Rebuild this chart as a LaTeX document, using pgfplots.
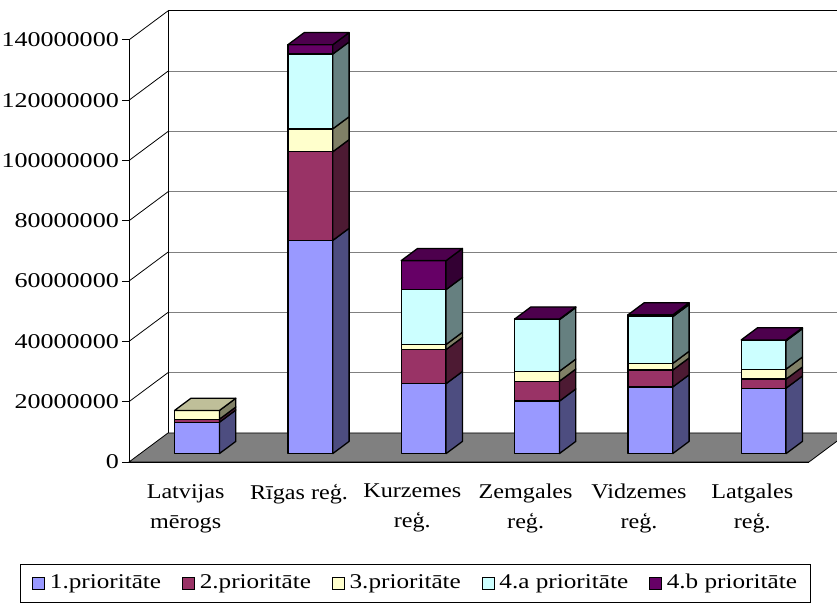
\documentclass[border=0pt]{standalone}
\usepackage{pgfplots}
\usepackage{pgfplotstable}
\pgfplotsset{compat=1.18}
\usepackage{fontspec}
\setmainfont{Liberation Serif}[FakeStretch=1.15]
\newfontfamily\yfont{Liberation Serif}[FakeStretch=1.24]
\newfontfamily\legfont{Liberation Serif}[FakeStretch=1.20]
\newcommand\chartfont{\fontsize{21bp}{30bp}\selectfont}
\newcommand\ylabfont{\yfont\fontsize{21bp}{30bp}\selectfont}
\newcommand\legendfont{\legfont\fontsize{21bp}{30bp}\selectfont}
\definecolor{c1}{HTML}{9999FF}\definecolor{c1s}{HTML}{4D4D80}\definecolor{c1t}{HTML}{7373BF}
\definecolor{c2}{HTML}{993366}\definecolor{c2s}{HTML}{4D1A33}\definecolor{c2t}{HTML}{73264D}
\definecolor{c3}{HTML}{FFFFCC}\definecolor{c3s}{HTML}{808066}\definecolor{c3t}{HTML}{BFBF99}
\definecolor{c4}{HTML}{CCFFFF}\definecolor{c4s}{HTML}{668080}\definecolor{c4t}{HTML}{99BFBF}
\definecolor{c5}{HTML}{660066}\definecolor{c5s}{HTML}{330033}\definecolor{c5t}{HTML}{4D004D}
\definecolor{floorgray}{HTML}{808080}
\definecolor{gridgray}{HTML}{808080}
% values in millions
\pgfplotstableread{
cat p1 p2 p3 p4a p4b
0 10.4 1.0 2.9 0 0
1 70.7 29.4 7.6 24.8 3.1
2 23.2 11.3 1.7 18.2 9.6
3 17.4 6.6 3.3 17.1 0.2
4 22.1 5.6 2.2 15.5 0.6
5 21.7 3.0 3.3 9.4 0.3
}\datatable
\def\hw{0.198}   % half bar width
\def\fdx{0.0998} % front offset of bars (depth)
\def\fdy{2.79}
\def\bdx{0.1445} % bar depth
\def\bdy{4.04}
\def\blw{1.3bp}
\newcommand\drawbar[1]{%
  \pgfmathsetmacro\xl{#1+0.5-\hw+\fdx}%
  \pgfmathsetmacro\xr{\xl+2*\hw}%
  \pgfmathsetmacro\xrb{\xr+\bdx}%
  \pgfmathsetmacro\xlb{\xl+\bdx}%
  \xdef\cum{\fdy}%
  \xdef\topcol{white}%
  \foreach \s/\fc/\sc/\tc in {p1/c1/c1s/c1t,p2/c2/c2s/c2t,p3/c3/c3s/c3t,p4a/c4/c4s/c4t,p4b/c5/c5s/c5t}{%
    \pgfplotstablegetelem{#1}{\s}\of\datatable
    \let\v\pgfplotsretval
    \ifdim\v pt>0pt
      \pgfmathsetmacro\ya{\cum}%
      \pgfmathsetmacro\yb{\cum+\v}%
      \pgfmathsetmacro\yab{\ya+\bdy}%
      \pgfmathsetmacro\ybb{\yb+\bdy}%
      \edef\temp{\noexpand\addplot[fill=\fc,draw=black,line width=\blw,line join=round,forget plot] coordinates {(\xl,\ya) (\xr,\ya) (\xr,\yb) (\xl,\yb)} -- cycle;
        \noexpand\addplot[fill=\sc,draw=black,line width=\blw,line join=round,forget plot] coordinates {(\xr,\ya) (\xrb,\yab) (\xrb,\ybb) (\xr,\yb)} -- cycle;}%
      \temp
      \xdef\cum{\yb}%
      \xdef\topcol{\tc}%
    \fi
  }%
  \pgfmathsetmacro\ytb{\cum+\bdy}%
  \edef\temp{\noexpand\addplot[fill=\topcol,draw=black,line width=\blw,line join=round,forget plot] coordinates {(\xl,\cum) (\xr,\cum) (\xrb,\ytb) (\xlb,\ytb)} -- cycle;}%
  \temp
}
\begin{document}
\chartfont
\begin{tikzpicture}
\useasboundingbox (-129bp,-141bp) rectangle (708bp,462bp);
\clip (-129bp,-141bp) rectangle (708bp,462bp);
\begin{axis}[
  at={(0,0)}, anchor=origin,
  x=113.33bp, y=3.015bp,
  xmin=0, xmax=6, ymin=0, ymax=140,
  clip=false, axis on top,
  axis x line*=bottom, axis y line*=left,
  axis line style={black, line width=0.8bp},
  tick align=outside,
  major tick length=7bp, minor tick length=7bp,
  tick style={black, line width=0.8bp},
  xtick={0.5,1.5,2.5,3.5,4.5,5.5},
  xticklabels={{Latvijas\\mērogs},{Rīgas reģ.},{Kurzemes\\reģ.},{Zemgales\\reģ.},{Vidzemes\\reģ.},{Latgales\\reģ.}},
  xtick style={draw=none},
  minor xtick={0,1,2,3,4,5,6},
  xticklabel style={align=center, font=\chartfont, anchor=north, yshift=-8bp},
  ytick={0,20,40,60,80,100,120,140},
  yticklabels={0,20000000,40000000,60000000,80000000,100000000,120000000,140000000},
  yticklabel style={font=\ylabfont, anchor=east, xshift=4bp},
  legend columns=5,
  legend style={at={(-0.1603,-0.2416)}, anchor=north west, draw=black, line width=0.6bp,
    font=\legendfont, inner xsep=12bp, inner ysep=9bp,
    nodes={inner sep=1bp},
    /tikz/every odd column/.append style={column sep=4bp},
    /tikz/every even column/.append style={column sep=20bp}},
  legend image code/.code={\draw[#1,line width=0.6bp] (0bp,-6bp) rectangle (12bp,6bp);},
]
% floor
\addplot[fill=floorgray, draw=black, line width=0.8bp, forget plot] coordinates {(0,0) (6,0) (6.344,9.62) (0.344,9.62)} -- cycle;
% back wall grid lines
\addplot[gridgray, line width=0.8bp, forget plot] coordinates {(0.344,29.62) (6.344,29.62)};
\addplot[gridgray, line width=0.8bp, forget plot] coordinates {(0.344,49.62) (6.344,49.62)};
\addplot[gridgray, line width=0.8bp, forget plot] coordinates {(0.344,69.62) (6.344,69.62)};
\addplot[gridgray, line width=0.8bp, forget plot] coordinates {(0.344,89.62) (6.344,89.62)};
\addplot[gridgray, line width=0.8bp, forget plot] coordinates {(0.344,109.62) (6.344,109.62)};
\addplot[gridgray, line width=0.8bp, forget plot] coordinates {(0.344,129.62) (6.344,129.62)};
\addplot[black, line width=0.8bp, forget plot] coordinates {(0.344,149.62) (6.344,149.62)};
\addplot[black, line width=0.8bp, forget plot] coordinates {(0.344,9.62) (0.344,149.62)};
% left wall diagonals
\addplot[black, line width=0.8bp, forget plot] coordinates {(0,20) (0.344,29.62)};
\addplot[black, line width=0.8bp, forget plot] coordinates {(0,40) (0.344,49.62)};
\addplot[black, line width=0.8bp, forget plot] coordinates {(0,60) (0.344,69.62)};
\addplot[black, line width=0.8bp, forget plot] coordinates {(0,80) (0.344,89.62)};
\addplot[black, line width=0.8bp, forget plot] coordinates {(0,100) (0.344,109.62)};
\addplot[black, line width=0.8bp, forget plot] coordinates {(0,120) (0.344,129.62)};
\addplot[black, line width=0.8bp, forget plot] coordinates {(0,140) (0.344,149.62)};
% bars
\drawbar{0}
\drawbar{1}
\drawbar{2}
\drawbar{3}
\drawbar{4}
\drawbar{5}
% legend
\addlegendimage{fill=c1,draw=black}\addlegendentry{1.prioritāte}
\addlegendimage{fill=c2,draw=black}\addlegendentry{2.prioritāte}
\addlegendimage{fill=c3,draw=black}\addlegendentry{3.prioritāte}
\addlegendimage{fill=c4,draw=black}\addlegendentry{4.a prioritāte}
\addlegendimage{fill=c5,draw=black}\addlegendentry{4.b prioritāte}
\end{axis}
\end{tikzpicture}
\end{document}
